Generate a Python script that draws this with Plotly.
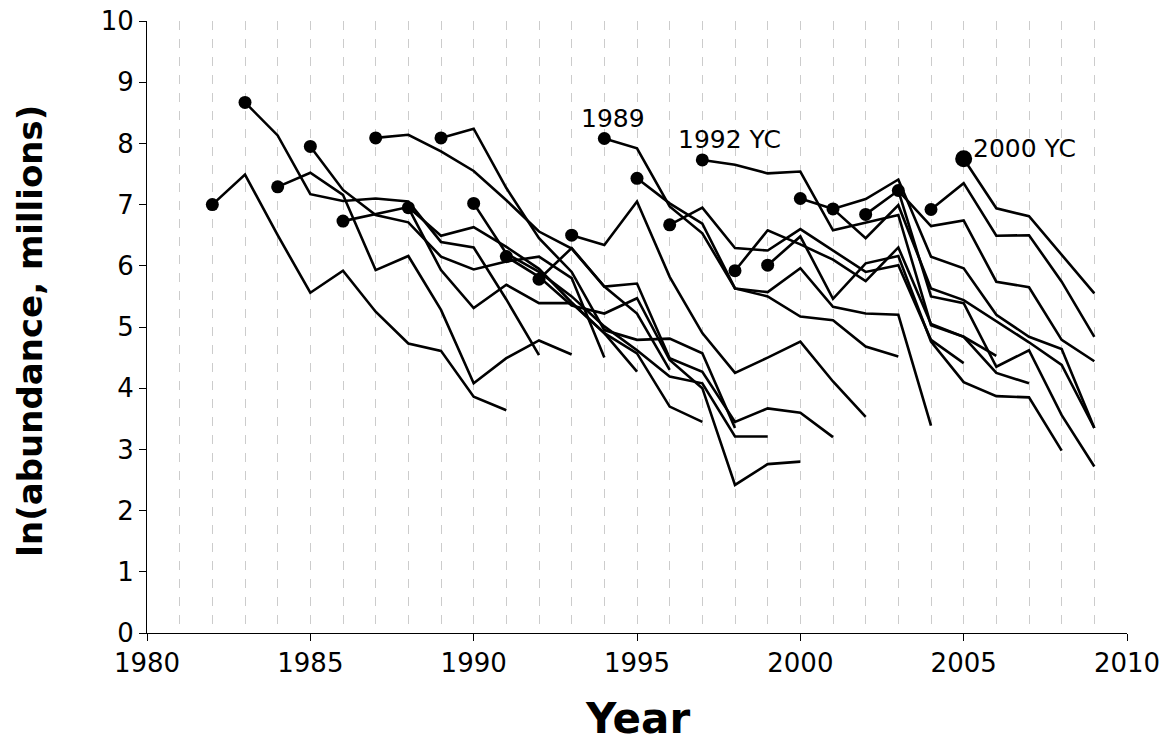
import plotly.graph_objects as go

# Year-class trajectories: ln(abundance, millions), first value = first year plotted (dot)
start_years = list(range(1982, 2006))

yc1982 = [7.00, 7.49, 6.50, 5.56, 5.92, 5.25, 4.73, 4.61, 3.86, 3.64]
yc1983 = [8.67, 8.13, 7.17, 7.06, 7.10, 7.05, 6.39, 6.30, 5.45, 4.54]
yc1984 = [7.29, 7.52, 7.16, 5.93, 6.16, 5.28, 4.08, 4.49, 4.78, 4.55]
yc1985 = [7.95, 7.24, 6.83, 6.71, 6.15, 5.94, 6.07, 6.15, 5.80, 4.50]
yc1986 = [6.73, 6.85, 6.96, 6.49, 6.63, 6.31, 5.95, 5.40, 4.90, 4.27]
yc1987 = [8.09, 8.14, 7.87, 7.55, 7.07, 6.56, 6.28, 5.66, 5.22, 4.30]
yc1988 = [6.95, 5.93, 5.31, 5.69, 5.39, 5.39, 4.90, 4.57, 3.70, 3.45]
yc1989 = [8.09, 8.24, 7.27, 6.45, 5.90, 4.95, 4.79, 4.81, 4.57, 3.35]
yc1990 = [7.02, 6.20, 5.90, 5.50, 5.01, 4.62, 4.19, 4.08, 3.21, 3.21]
yc1991 = [6.15, 5.82, 5.35, 5.22, 5.47, 4.46, 4.00, 2.42, 2.76, 2.80]
yc1992 = [5.78, 6.29, 5.66, 5.71, 4.49, 4.27, 3.45, 3.67, 3.60, 3.20]
yc1993 = [6.50, 6.34, 7.05, 5.82, 4.90, 4.25, 4.50, 4.76, 4.11, 3.53]
yc1994 = [8.08, 7.92, 6.97, 6.53, 5.63, 5.50, 5.17, 5.11, 4.68, 4.52]
yc1995 = [7.43, 7.02, 6.69, 5.63, 5.57, 5.96, 5.33, 5.22, 5.20, 3.39]
yc1996 = [6.67, 6.95, 6.29, 6.25, 6.60, 6.25, 5.90, 6.01, 4.79, 4.41]
yc1997 = [7.73, 7.65, 7.51, 7.54, 6.58, 6.70, 6.83, 5.03, 4.84, 4.53]
yc1998 = [5.92, 6.58, 6.35, 6.10, 5.75, 6.30, 5.05, 4.84, 4.25, 4.08]
yc1999 = [6.01, 6.48, 5.46, 6.04, 6.16, 4.76, 4.10, 3.87, 3.85, 2.98]
yc2000 = [7.10, 6.93, 7.09, 7.41, 6.15, 5.96, 5.20, 4.84, 4.64, 3.35]
yc2001 = [6.93, 6.45, 6.99, 5.63, 5.44, 5.09, 4.75, 4.38, 3.35]
yc2002 = [6.84, 7.23, 5.50, 5.39, 4.35, 4.62, 3.56, 2.72]
yc2003 = [7.23, 6.65, 6.74, 5.74, 5.65, 4.79, 4.44]
yc2004 = [6.92, 7.35, 6.49, 6.50, 5.74, 4.84]
yc2005 = [7.75, 6.94, 6.81, 6.18, 5.55]

cohorts = [yc1982, yc1983, yc1984, yc1985, yc1986, yc1987, yc1988, yc1989,
           yc1990, yc1991, yc1992, yc1993, yc1994, yc1995, yc1996, yc1997,
           yc1998, yc1999, yc2000, yc2001, yc2002, yc2003, yc2004, yc2005]

label_text = ["1989", "1992 YC", "2000 YC"]
label_x = [1994.27, 1997.83, 2006.86]
label_y = [8.41, 8.07, 7.92]

FONT = "DejaVu Sans"

fig = go.Figure()

for yr, vals in zip(start_years, cohorts):
    xs = list(range(yr, yr + len(vals)))
    fig.add_trace(go.Scatter(x=xs, y=vals, mode="lines",
                             line=dict(color="black", width=2.6),
                             showlegend=False, hoverinfo="skip"))

dot_x = start_years
dot_y = [c[0] for c in cohorts]
dot_size = [13] * (len(start_years) - 1) + [17]
fig.add_trace(go.Scatter(x=dot_x, y=dot_y, mode="markers",
                         marker=dict(color="black", size=dot_size, opacity=1,
                                     line=dict(width=0, color="black")),
                         showlegend=False, hoverinfo="skip"))

for t, x, y in zip(label_text, label_x, label_y):
    fig.add_annotation(x=x, y=y, text=t, showarrow=False, xref="x", yref="y",
                       xanchor="center", yanchor="middle",
                       font=dict(family=FONT, size=25, color="black"))

fig.add_annotation(x=0.5, y=-0.139, xref="paper", yref="paper", text="<b>Year</b>",
                   xanchor="center", yanchor="middle",
                   showarrow=False, font=dict(family=FONT, size=42, color="black"))
fig.add_annotation(x=-0.1194, y=0.494, xref="paper", yref="paper",
                   text="<b>ln(abundance, millions)</b>", textangle=-90,
                   xanchor="center", yanchor="middle",
                   showarrow=False, font=dict(family=FONT, size=34, color="black"))

fig.update_layout(
    width=1167, height=749,
    margin=dict(l=147, r=40, t=21, b=116, autoexpand=False),
    paper_bgcolor="white", plot_bgcolor="white",
    font=dict(family=FONT, size=26, color="black"),
    xaxis=dict(range=[1980, 2010], tick0=1980, dtick=5, ticks="outside", ticklen=7,
               tickwidth=1, tickcolor="black", showline=True, linecolor="black",
               linewidth=1, showgrid=True, gridcolor="#cccccc", griddash="dash",
               gridwidth=1, zeroline=False, automargin=False,
               minor=dict(dtick=1, showgrid=True, gridcolor="#cccccc",
                          griddash="dash", gridwidth=1)),
    yaxis=dict(range=[0, 10], dtick=1, ticks="outside", ticklen=7, tickwidth=1,
               tickcolor="black", showline=True, linecolor="black", linewidth=1,
               showgrid=False, zeroline=False, automargin=False),
)

fig.write_html("out.html")
